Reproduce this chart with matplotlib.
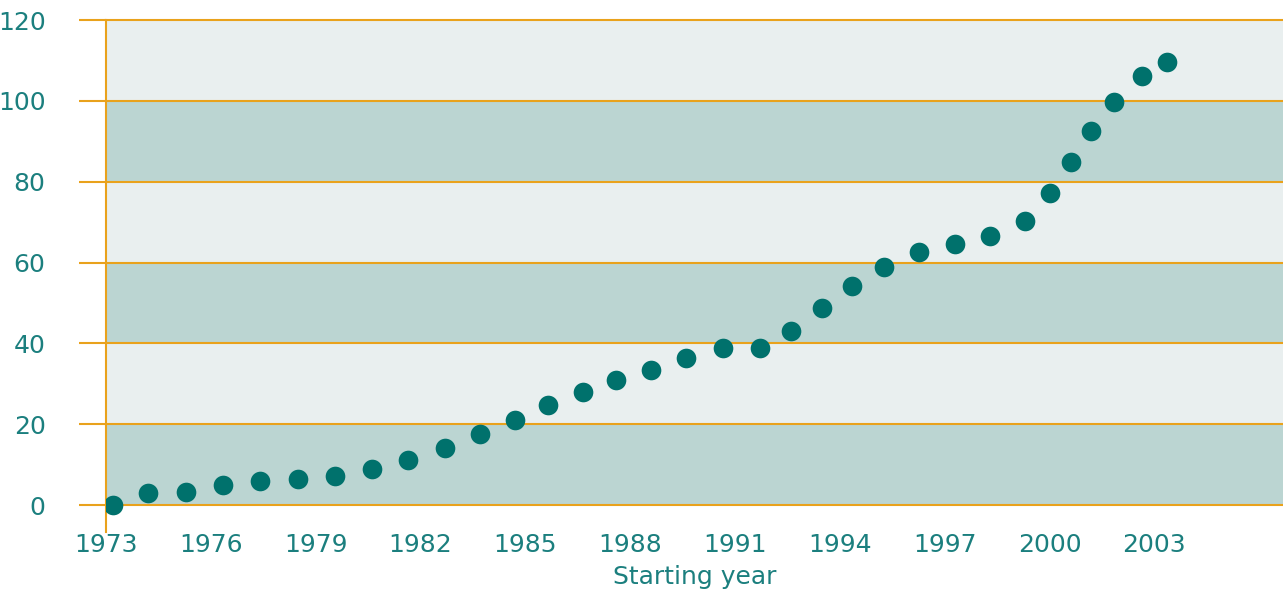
import matplotlib
matplotlib.use("Agg")
import matplotlib.pyplot as plt

# datos
anios = [1973.2, 1974.2, 1975.3, 1976.35, 1977.4, 1978.5, 1979.55, 1980.6, 1981.65,
         1982.7, 1983.7, 1984.7, 1985.65, 1986.65, 1987.6, 1988.6, 1989.6, 1990.65,
         1991.7, 1992.6, 1993.5, 1994.35, 1995.25, 1996.25, 1997.3, 1998.3, 1999.3,
         2000.0, 2000.6, 2001.2, 2001.85, 2002.65, 2003.35]
valores = [0, 2.9, 3.2, 5.0, 5.9, 6.4, 7.1, 8.8, 11.2, 14.2, 17.6, 21.0, 24.7, 27.9,
           30.9, 33.3, 36.3, 38.8, 38.9, 43.1, 48.7, 54.1, 58.9, 62.5, 64.5, 66.6,
           70.3, 77.2, 84.9, 92.6, 99.8, 106.2, 109.6]
xticks = list(range(1973, 2004, 3))
yticks = [0, 20, 40, 60, 80, 100, 120]

verde = "#00716C"
texto = "#1B7F7E"
naranja = "#E9A21C"
banda_oscura = "#BBD5D2"
banda_clara = "#E9EFEF"

plt.rcParams['font.family'] = ['DejaVu Sans']

fig = plt.figure(figsize=(12.83, 5.9), dpi=100)
ax = fig.add_axes([106 / 1283, 1 - 531.7 / 590, 1 - 106 / 1283, (531.7 - 20) / 590])

# bandas
for i in range(len(yticks) - 1):
    color = banda_oscura if i % 2 == 0 else banda_clara
    ax.axhspan(yticks[i], yticks[i + 1], color=color, lw=0, zorder=0)
for y in yticks:
    ax.axhline(y, color=naranja, lw=1.5, zorder=1, clip_on=False)

ax.scatter(anios, valores, s=200, color=verde, lw=0, zorder=3)

ax.set_xlim(1973, 2006.68)
ax.set_ylim(-6.6, 120)
for s in ["top", "right", "bottom"]:
    ax.spines[s].set_visible(False)
ax.spines["left"].set_color(naranja)
ax.spines["left"].set_linewidth(1.5)

ax.set_xticks(xticks)
ax.set_xticklabels([str(a) for a in xticks], fontsize=18, color=texto)
ax.tick_params(axis="x", length=0, pad=1)
ax.set_yticks(yticks)
ax.set_yticklabels([str(v) for v in yticks], fontsize=18, color=texto)
ax.tick_params(axis="y", length=19.5, width=1.5, color=naranja, pad=24)

ax.set_xlabel("Starting year", fontsize=18, color=texto, labelpad=6)

fig.savefig("out.png", dpi=100)
